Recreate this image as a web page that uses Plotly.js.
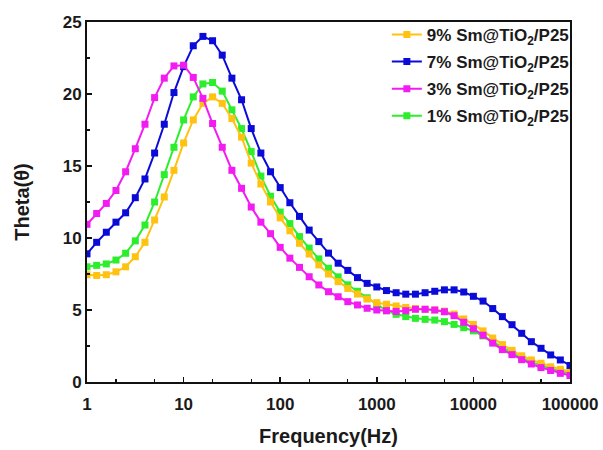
<!DOCTYPE html>
<html>
<head>
<meta charset="utf-8">
<script src="https://cdn.plot.ly/plotly-3.0.1.min.js"></script>
<style>html,body{margin:0;padding:0;background:#fff;}#chart{width:603px;height:450px;}</style>
</head>
<body>
<div id="chart"></div>
<script>
// Frequency (Hz), 10 points per decade
const freq = [1, 1.259, 1.585, 1.995, 2.512, 3.162, 3.981, 5.012, 6.310, 7.943,
  10, 12.59, 15.85, 19.95, 25.12, 31.62, 39.81, 50.12, 63.10, 79.43,
  100, 125.9, 158.5, 199.5, 251.2, 316.2, 398.1, 501.2, 631.0, 794.3,
  1000, 1259, 1585, 1995, 2512, 3162, 3981, 5012, 6310, 7943,
  10000, 12589, 15849, 19953, 25119, 31623, 39811, 50119, 63096, 79433,
  100000];

const sm9 = [7.45, 7.4, 7.45, 7.65, 8.0, 8.7, 9.7, 11.25, 12.85, 14.7,
  16.6, 18.2, 19.35, 19.8, 19.35, 18.3, 17.0, 15.2, 13.75, 12.5,
  11.4, 10.5, 9.63, 8.89, 8.13, 7.5, 6.97, 6.5, 6.11, 5.76,
  5.51, 5.4, 5.28, 5.18, 5.1, 5.05, 5.0, 4.92, 4.72, 4.38,
  4.0, 3.55, 3.05, 2.6, 2.2, 1.82, 1.53, 1.3, 1.06, 0.88,
  0.72];

const sm7 = [8.9, 9.7, 10.4, 11.1, 11.75, 12.8, 14.1, 15.9, 17.9, 20.1,
  21.9, 23.35, 24.0, 23.7, 22.7, 21.1, 19.6, 17.6, 15.9, 14.6,
  13.5, 12.45, 11.5, 10.55, 9.75, 8.95, 8.25, 7.75, 7.25, 6.85,
  6.6, 6.35, 6.2, 6.1, 6.1, 6.2, 6.3, 6.4, 6.4, 6.25,
  5.95, 5.62, 5.1, 4.54, 3.98, 3.38, 2.8, 2.34, 1.88, 1.53,
  1.15];

const sm3 = [10.95, 11.7, 12.4, 13.3, 14.6, 16.2, 17.9, 19.75, 21.1, 21.95,
  22.0, 21.15, 19.7, 17.95, 16.3, 14.7, 13.45, 12.15, 11.1, 10.3,
  9.35, 8.6, 7.96, 7.31, 6.74, 6.27, 5.92, 5.58, 5.35, 5.12,
  5.0, 4.95, 4.9, 4.95, 5.05, 5.05, 5.0, 4.88, 4.6, 4.15,
  3.7, 3.25, 2.7, 2.25, 1.9, 1.55, 1.25, 1.0, 0.8, 0.6,
  0.45];

const sm1 = [8.0, 8.1, 8.2, 8.47, 8.94, 9.8, 10.9, 12.5, 14.4, 16.3,
  18.2, 19.8, 20.7, 20.8, 20.2, 18.9, 17.6, 16.0, 14.3, 12.9,
  11.8, 11.0, 10.1, 9.3, 8.55, 7.9, 7.3, 6.75, 6.3, 5.85,
  5.35, 4.95, 4.7, 4.54, 4.42, 4.35, 4.3, 4.19, 4.0, 3.77,
  3.55, 3.2, 2.8, 2.4, 2.0, 1.65, 1.38, 1.15, 0.92, 0.75,
  0.6];

const names = ['9% Sm@TiO<sub>2</sub>/P25', '7% Sm@TiO<sub>2</sub>/P25',
               '3% Sm@TiO<sub>2</sub>/P25', '1% Sm@TiO<sub>2</sub>/P25'];
const xTickVals = [1, 10, 100, 1000, 10000, 100000];
const xTickText = ['1', '10', '100', '1000', '10000', '100000'];

function tr(y, name, color, rank) {
  return {
    x: freq, y: y, name: name, type: 'scatter', mode: 'lines+markers',
    line: {color: color, width: 2},
    marker: {symbol: 'square', size: 7, color: color},
    legendrank: rank, legendgroup: 'g' + rank
  };
}

const data = [
  tr(sm1, names[3], '#2CEE2C', 4),
  tr(sm9, names[0], '#FFC211', 1),
  tr(sm7, names[1], '#0B0BD8', 2),
  tr(sm3, names[2], '#F21CF2', 3)
];

const fontB = {family: 'Arial, "Liberation Sans", sans-serif', weight: 'bold', color: '#1a1a1a'};

const layout = {
  width: 603, height: 450,
  margin: {l: 87, r: 33, t: 22, b: 68},
  paper_bgcolor: '#fff', plot_bgcolor: '#fff',
  showlegend: true,
  legend: {
    x: 1.008, xanchor: 'right', y: 1.014, yanchor: 'top',
    bgcolor: 'rgba(0,0,0,0)',
    font: Object.assign({}, fontB, {size: 17}),
    itemwidth: 30, tracegroupgap: 2
  },
  xaxis: {
    type: 'log', range: [0, 5],
    tickvals: xTickVals, ticktext: xTickText,
    ticks: 'inside', ticklen: 5, tickwidth: 1.5, tickcolor: '#111',
    minor: {ticks: 'inside', ticklen: 3, tickwidth: 1.2, tickcolor: '#111', showgrid: false},
    showline: true, linecolor: '#111', linewidth: 2, mirror: true,
    showgrid: false, zeroline: false,
    ticklabelstandoff: 6,
    tickfont: Object.assign({}, fontB, {size: 17}),
    title: {text: 'Frequency(Hz)', font: Object.assign({}, fontB, {size: 20}), standoff: 16}
  },
  yaxis: {
    range: [0, 25], dtick: 5,
    ticks: 'inside', ticklen: 5, tickwidth: 1.5, tickcolor: '#111',
    minor: {ticks: 'inside', ticklen: 3, tickwidth: 1.2, tickcolor: '#111', dtick: 2.5, showgrid: false},
    showline: true, linecolor: '#111', linewidth: 2, mirror: true,
    showgrid: false, zeroline: false,
    tickfont: Object.assign({}, fontB, {size: 17}),
    title: {text: 'Theta(θ)', font: Object.assign({}, fontB, {size: 20}), standoff: 28}
  }
};

Plotly.newPlot('chart', data, layout, {displayModeBar: false, staticPlot: true});
</script>
</body>
</html>
